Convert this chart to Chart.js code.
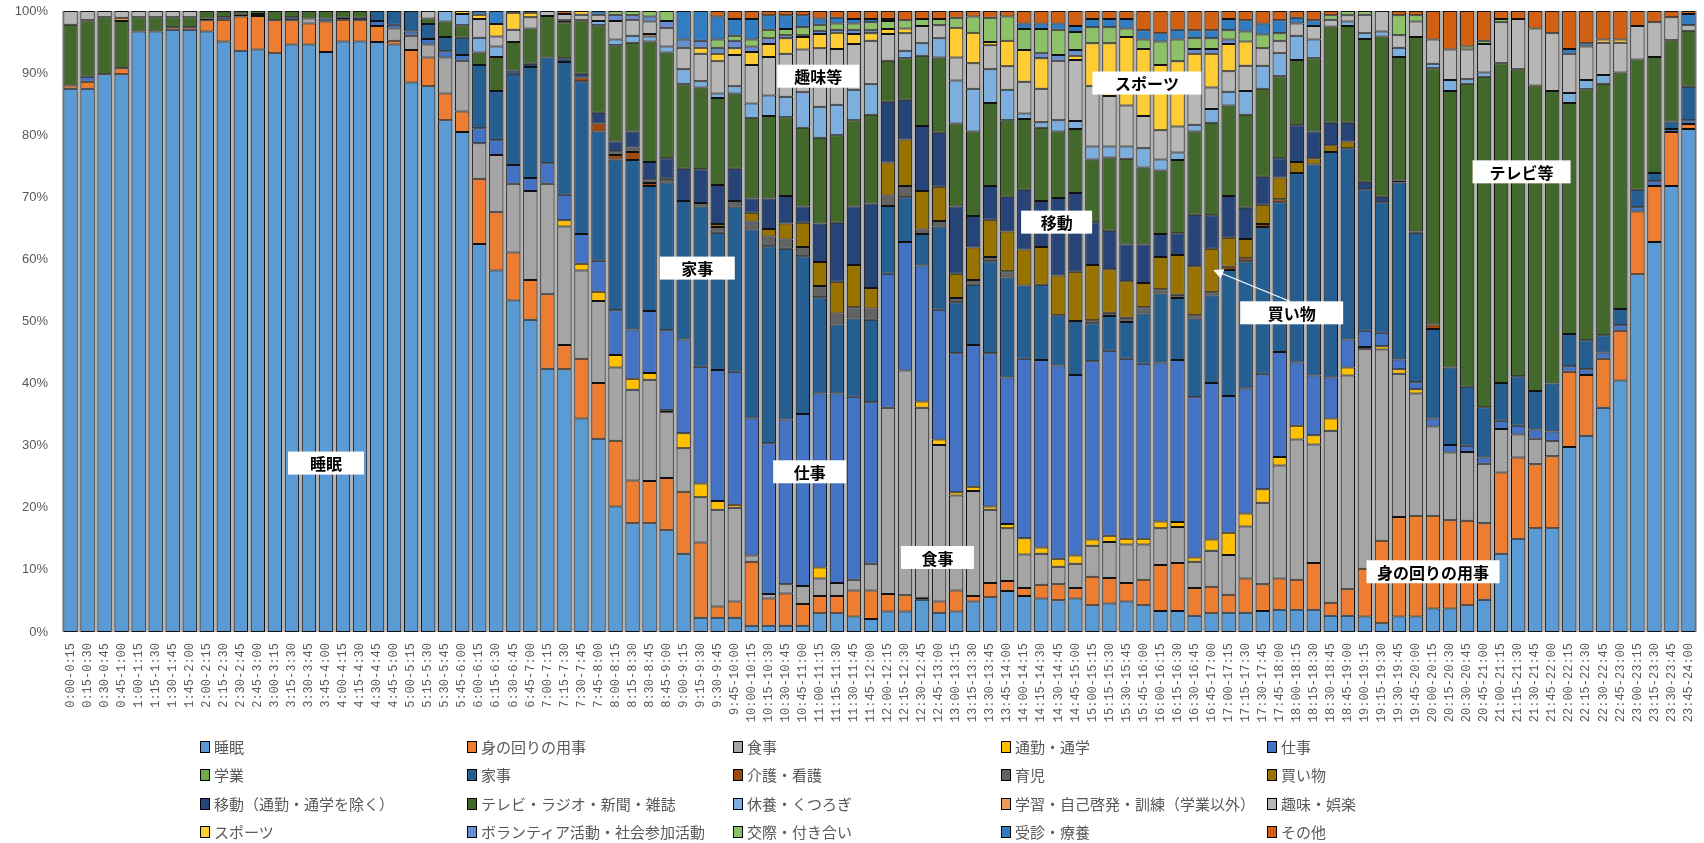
<!DOCTYPE html>
<html lang="ja">
<head>
  <meta charset="UTF-8">
  <title>生活時間 積み上げ棒グラフ</title>
  <script src="https://cdn.jsdelivr.net/npm/chart.js"></script>
  <style>
    body{margin:0;background:#fff;}
    .wrap{position:relative;width:1704px;height:843px;}
    #legend{position:absolute;left:0;top:0;width:1704px;height:843px;pointer-events:none;
      font-family:"Noto Sans CJK JP","Noto Sans",sans-serif;font-size:15px;color:#595959;}
    .item{position:absolute;display:flex;align-items:center;white-space:nowrap;line-height:1;}
    .item i{display:inline-block;width:8px;height:10px;border:1px solid #000;margin-right:4px;}
  </style>
</head>
<body>
<div class="wrap">
  <canvas id="myChart" width="1704" height="843"></canvas>
  <div id="legend"></div>
</div>
<script>
// time slots
const slots = [
  '0:00-0:15','0:15-0:30','0:30-0:45','0:45-1:00','1:00-1:15','1:15-1:30','1:30-1:45','1:45-2:00',
  '2:00-2:15','2:15-2:30','2:30-2:45','2:45-3:00','3:00-3:15','3:15-3:30','3:30-3:45','3:45-4:00',
  '4:00-4:15','4:15-4:30','4:30-4:45','4:45-5:00','5:00-5:15','5:15-5:30','5:30-5:45','5:45-6:00',
  '6:00-6:15','6:15-6:30','6:30-6:45','6:45-7:00','7:00-7:15','7:15-7:30','7:30-7:45','7:45-8:00',
  '8:00-8:15','8:15-8:30','8:30-8:45','8:45-9:00','9:00-9:15','9:15-9:30','9:30-9:45','9:45-10:00',
  '10:00-10:15','10:15-10:30','10:30-10:45','10:45-11:00','11:00-11:15','11:15-11:30','11:30-11:45','11:45-12:00',
  '12:00-12:15','12:15-12:30','12:30-12:45','12:45-13:00','13:00-13:15','13:15-13:30','13:30-13:45','13:45-14:00',
  '14:00-14:15','14:15-14:30','14:30-14:45','14:45-15:00','15:00-15:15','15:15-15:30','15:30-15:45','15:45-16:00',
  '16:00-16:15','16:15-16:30','16:30-16:45','16:45-17:00','17:00-17:15','17:15-17:30','17:30-17:45','17:45-18:00',
  '18:00-18:15','18:15-18:30','18:30-18:45','18:45-19:00','19:00-19:15','19:15-19:30','19:30-19:45','19:45-20:00',
  '20:00-20:15','20:15-20:30','20:30-20:45','20:45-21:00','21:00-21:15','21:15-21:30','21:30-21:45','21:45-22:00',
  '22:00-22:15','22:15-22:30','22:30-22:45','22:45-23:00','23:00-23:15','23:15-23:30','23:30-23:45','23:45-24:00'
];

// % of people, one value per slot (rows of 10)
const sleep = [
  87.5, 87.5, 89.8, 89.8, 96.7, 96.7, 97.0, 97.0, 96.7, 95.1,
  93.6, 93.8, 93.2, 94.6, 94.6, 93.4, 95.1, 95.1, 95.0, 94.6,
  88.5, 87.9, 82.4, 80.5, 62.5, 58.2, 53.4, 50.3, 42.4, 42.3,
  34.4, 31.1, 20.2, 17.5, 17.5, 16.4, 12.6, 2.3, 2.3, 2.3,
  1.0, 1.0, 1.0, 1.0, 3.0, 3.0, 2.5, 2.1, 3.3, 3.3,
  5.2, 3.1, 3.3, 4.9, 5.6, 6.6, 5.8, 5.4, 5.1, 5.4,
  4.3, 4.6, 4.9, 4.3, 3.4, 3.4, 2.6, 3.0, 3.1, 3.1,
  3.4, 3.6, 3.6, 3.6, 2.6, 2.6, 2.5, 1.4, 2.5, 2.5,
  3.8, 3.8, 4.3, 5.2, 12.6, 15.0, 16.7, 16.7, 29.8, 31.6,
  36.1, 40.5, 57.6, 62.8, 71.8, 81.0
];
const personal = [
  0.5, 1.1, 0, 1.0, 0, 0, 0.4, 0.4, 1.8, 3.5,
  5.5, 5.4, 5.3, 3.9, 3.4, 4.9, 3.5, 3.4, 2.6, 0.6,
  5.2, 4.6, 4.3, 3.3, 10.5, 9.4, 7.7, 6.4, 12.0, 3.9,
  9.6, 9.0, 10.6, 6.9, 6.8, 8.4, 10.0, 12.1, 1.8, 2.6,
  10.3, 4.4, 5.2, 3.5, 2.8, 2.8, 4.2, 4.6, 2.8, 2.6,
  0.3, 1.8, 3.4, 0.9, 2.3, 1.6, 1.3, 2.2, 2.6, 1.7,
  4.6, 4.1, 3.0, 4.1, 7.4, 7.7, 4.5, 4.3, 2.9, 5.5,
  4.3, 5.0, 4.8, 7.5, 2.1, 4.3, 7.7, 13.3, 16.0, 16.2,
  14.9, 14.2, 13.6, 12.3, 13.1, 13.1, 10.3, 11.6, 12.1, 9.8,
  7.9, 8.0, 10.1, 9.0, 8.7, 0.8
];
const meal = [
  0, 0, 0, 0, 0, 0, 0, 0, 0, 0,
  0, 0, 0, 0, 0.8, 0, 0, 0, 0, 2.0,
  2.3, 2.1, 5.8, 8.2, 5.7, 9.2, 11.1, 14.3, 17.8, 19.1,
  14.2, 13.2, 11.8, 14.6, 16.3, 10.6, 7.0, 7.3, 15.6, 15.1,
  1.0, 0.7, 1.5, 2.9, 2.8, 2.1, 1.7, 4.3, 30.0, 36.2,
  30.6, 25.2, 15.3, 16.9, 11.8, 8.5, 5.4, 5.0, 2.8, 3.9,
  5.0, 5.8, 6.2, 5.7, 5.9, 5.8, 4.2, 5.8, 6.4, 8.4,
  13.1, 18.2, 22.6, 19.1, 27.7, 34.4, 35.4, 30.8, 23.1, 19.7,
  14.4, 10.9, 11.1, 9.6, 7.0, 3.7, 4.1, 2.4, 0, 0,
  0, 0, 0, 0, 0, 0
];
const commute = [
  0, 0, 0, 0, 0, 0, 0, 0, 0, 0,
  0, 0, 0, 0, 0, 0, 0, 0, 0, 0,
  0, 0, 0, 0, 0, 0, 0, 0, 0, 1.0,
  1.1, 1.5, 2.0, 1.8, 1.1, 0.3, 2.4, 2.2, 1.4, 0.5,
  0, 0, 0, 0, 1.8, 0, 0, 0, 0, 0,
  1.0, 0.9, 0.5, 0.7, 0.5, 0.7, 2.6, 1.0, 1.3, 1.3,
  1.0, 1.0, 0.9, 0.9, 1.1, 0.8, 0.7, 1.8, 3.6, 2.1,
  2.2, 1.4, 2.2, 1.5, 2.0, 1.3, 0.3, 0.5, 0.7, 0.7,
  0, 0, 0, 0, 0, 0, 0, 0, 0, 0,
  0, 0, 0, 0, 0, 0
];
const work = [
  0, 0.8, 0, 0, 0, 0, 0, 0, 0, 0,
  0.3, 0, 0, 0, 0, 0, 0, 0, 0.8, 0.6,
  0.7, 0.9, 1.0, 0.9, 2.4, 2.4, 3.0, 2.1, 3.3, 4.1,
  4.8, 5.0, 7.2, 7.9, 10.0, 12.9, 15.1, 18.8, 21.1, 21.4,
  22.1, 24.3, 26.5, 27.7, 28.0, 30.5, 29.5, 26.0, 21.6, 20.7,
  21.9, 20.9, 22.4, 22.8, 24.7, 23.6, 28.9, 30.2, 31.1, 29.1,
  28.7, 29.8, 29.0, 28.2, 25.6, 26.1, 25.8, 25.2, 22.0, 20.1,
  18.6, 16.9, 10.2, 9.6, 6.6, 4.5, 2.6, 2.2, 1.6, 1.1,
  1.3, 1.2, 1.0, 1.0, 1.3, 1.4, 1.5, 1.6, 0.9, 0.9,
  1.0, 0.9, 0.7, 0.8, 0.5, 0.6
];
const school = [
  0, 0, 0, 0, 0, 0, 0, 0, 0, 0,
  0, 0, 0, 0, 0, 0, 0, 0, 0, 0,
  0, 0, 0, 0, 0, 0, 0, 0, 0, 0,
  0, 0, 0, 0, 0, 0, 0, 0, 0, 0,
  0, 0, 0, 0, 0, 0, 0, 0, 0, 0,
  0, 0, 0, 0, 0, 0, 0, 0, 0, 0,
  0, 0, 0, 0, 0, 0, 0, 0, 0, 0,
  0, 0, 0, 0, 0, 0, 0, 0, 0, 0,
  0, 0, 0, 0, 0, 0, 0, 0, 0, 0,
  0, 0, 0, 0, 0, 0
];
const housework = [
  0, 0, 0, 0, 0, 0, 0, 0, 0.3, 0.4,
  0, 0, 0, 0, 0, 0.5, 0, 0, 1.6, 2.2,
  3.3, 2.4, 2.3, 2.8, 10.2, 7.9, 14.7, 17.9, 17.0, 21.4,
  24.6, 20.8, 24.3, 27.3, 20.1, 23.8, 22.3, 25.8, 22.1, 26.6,
  30.4, 31.7, 27.5, 25.4, 15.5, 11.1, 12.6, 13.3, 10.9, 7.2,
  5.1, 13.4, 8.2, 9.7, 14.8, 16.1, 11.8, 12.1, 8.1, 8.7,
  6.1, 5.6, 5.9, 8.1, 11.1, 10.0, 12.7, 14.1, 20.3, 20.5,
  23.6, 24.1, 30.5, 34.0, 36.3, 30.8, 22.8, 21.0, 28.5, 24.1,
  14.4, 12.5, 9.5, 8.1, 6.1, 8.0, 6.2, 7.7, 5.2, 4.7,
  2.8, 2.6, 2.8, 1.3, 1.2, 5.4
];
const nursing = [
  0, 0, 0, 0, 0, 0, 0, 0, 0, 0,
  0, 0, 0, 0, 0, 0, 0, 0, 0, 0,
  0, 0, 0, 0, 0, 0, 0, 0, 0, 0,
  0.6, 1.3, 0.7, 1.3, 0.5, 0, 0, 0, 0, 0,
  0, 0, 0, 0, 0, 0, 0, 0, 0, 0,
  0, 0, 0, 0, 0, 0, 0, 0, 0, 0,
  0, 0, 0, 0, 0, 0, 0, 0, 0.5, 0.5,
  0.5, 0.5, 0, 0, 0, 0, 0, 0, 0, 0,
  0.7, 0, 0, 0, 0, 0, 0, 0, 0, 0,
  0, 0, 0, 0, 0, 0
];
const childcare = [
  0, 0, 0, 0, 0, 0, 0, 0, 0, 0,
  0, 0, 0, 0, 0, 0, 0, 0, 0, 0,
  0, 0, 0, 0, 0, 0, 0, 0, 0, 0,
  0, 0, 0.6, 0.7, 0.6, 0.6, 0, 0.6, 0.9, 0.9,
  1.3, 1.6, 1.5, 1.5, 1.8, 1.8, 1.8, 1.8, 1.7, 1.8,
  0.7, 0.9, 0.7, 0.8, 0.7, 1.0, 0, 0, 0, 0,
  0.5, 0.5, 0.7, 1.0, 0.7, 0.5, 0.5, 0.5, 0, 0,
  0, 0, 0, 0, 0, 0, 0, 0, 0, 0,
  0, 0, 0, 0, 0, 0, 0, 0, 0, 0,
  0, 0, 0, 0, 0, 0
];
const shopping = [
  0, 0, 0, 0, 0, 0, 0, 0, 0, 0,
  0, 0, 0, 0, 0, 0, 0, 0, 0, 0,
  0, 0, 0, 0, 0, 0, 0, 0, 0, 0,
  0, 0, 0, 0, 0, 0, 0, 0, 0.5, 0,
  1.4, 1.2, 2.6, 3.9, 3.9, 5.1, 6.8, 3.3, 5.3, 7.5,
  6.2, 5.5, 3.9, 5.2, 6.0, 6.4, 5.8, 6.1, 6.4, 7.9,
  8.9, 7.0, 5.9, 3.9, 5.2, 6.4, 7.9, 7.0, 4.7, 3.1,
  3.1, 3.5, 1.8, 1.0, 1.1, 1.1, 0, 0, 0, 0,
  0, 0, 0, 0, 0, 0, 0, 0, 0, 0,
  0, 0, 0, 0, 0, 0
];
const moving = [
  0, 0, 0, 0, 0, 0, 0, 0, 0, 0,
  0, 0.3, 0, 0.5, 0, 0, 0.3, 0.4, 0, 0,
  0, 0, 0, 0, 0, 0, 0.5, 0.5, 0, 0.6,
  0.6, 1.7, 1.6, 2.6, 2.8, 3.3, 5.2, 5.4, 6.3, 5.2,
  2.3, 4.9, 4.4, 2.6, 6.2, 9.5, 9.4, 13.6, 9.8, 6.4,
  10.5, 8.7, 10.8, 5.1, 5.4, 5.6, 9.6, 7.4, 12.5, 12.7,
  6.9, 6.2, 5.9, 6.2, 3.7, 3.5, 8.3, 5.4, 6.7, 5.0,
  4.5, 3.1, 5.9, 4.3, 3.6, 3.0, 1.2, 0.9, 0.3, 0.2,
  0, 0, 0, 0, 0, 0, 0, 0, 0, 0,
  0, 0, 0, 0, 0, 0
];
const tv = [
  9.8, 9.1, 9.2, 7.6, 2.3, 2.3, 1.6, 1.6, 1.2, 1.0,
  0.6, 0.5, 1.5, 1.0, 1.2, 1.2, 1.1, 1.1, 0, 0,
  0, 0.9, 2.5, 2.0, 2.0, 5.5, 4.6, 5.7, 6.7, 5.8,
  8.6, 14.1, 15.5, 14.3, 19.4, 17.0, 13.6, 13.2, 14.0, 12.1,
  13.0, 13.3, 12.7, 12.7, 13.8, 14.1, 13.9, 14.3, 6.6, 6.7,
  11.3, 12.1, 13.4, 13.6, 13.4, 12.3, 11.4, 11.8, 10.7, 10.3,
  10.1, 11.8, 13.8, 12.4, 10.2, 11.8, 13.4, 14.9, 14.6, 15.0,
  14.2, 13.2, 10.5, 11.8, 15.5, 15.6, 23.0, 25.8, 19.9, 31.3,
  41.3, 44.5, 48.8, 53.2, 51.5, 49.4, 49.2, 47.1, 37.2, 40.4,
  40.5, 38.1, 21.0, 18.7, 13.1, 9.0
];
const rest = [
  0, 0, 0, 0, 0, 0, 0, 0, 0, 0,
  0, 0, 0, 0, 0, 0, 0, 0, 0, 0,
  0, 0, 1.7, 1.8, 2.4, 1.7, 0, 0, 0, 0,
  0, 0.7, 0.9, 1.1, 0.8, 1.0, 2.4, 1.0, 0.7, 1.2,
  2.3, 3.3, 3.3, 5.7, 5.0, 4.9, 4.9, 4.9, 0, 1.2,
  2.0, 3.1, 6.9, 6.9, 5.4, 4.9, 0.9, 0.9, 1.8, 1.3,
  2.1, 1.8, 2.0, 3.1, 1.8, 1.2, 1.1, 2.2, 2.2, 3.8,
  3.7, 3.7, 3.9, 3.0, 0, 0.7, 0.9, 0.8, 1.5, 0,
  0.7, 1.8, 0.7, 0.7, 0, 0, 0, 0, 1.6, 1.5,
  1.4, 0, 0, 0, 0, 0
];
const learning = [
  0, 0, 0, 0.5, 0, 0, 0, 0, 0, 0,
  0, 0, 0, 0, 0, 0, 0, 0, 0, 0,
  0, 0, 0, 0, 0, 0, 0, 0, 0, 0.3,
  0, 0, 0, 0, 0.4, 0, 0, 0, 0, 0,
  0, 0, 0, 0, 0, 0, 0, 0, 0, 0,
  0, 0, 0, 0, 0, 0, 0, 0, 0, 0,
  0, 0, 0, 0, 0, 0, 0, 0, 0, 0,
  0, 0, 0, 0, 0, 0, 0, 0, 0, 0,
  0, 0, 0, 0, 0, 0, 0, 0, 0, 0,
  0, 0, 0, 0, 0, 0
];
const hobby = [
  2.2, 1.5, 1.0, 1.1, 1.0, 1.0, 1.0, 1.0, 0, 0,
  0, 0, 0, 0, 0, 0, 0, 0, 0, 0,
  0, 1.2, 0, 0, 3.0, 1.6, 2.0, 1.8, 0.8, 1.0,
  0.9, 1.0, 3.0, 2.6, 2.0, 3.0, 3.5, 4.4, 5.2, 5.0,
  6.2, 6.2, 6.9, 6.9, 9.4, 9.0, 7.4, 7.0, 4.3, 2.8,
  2.8, 2.1, 3.7, 4.1, 3.9, 3.8, 5.1, 5.4, 9.6, 9.8,
  9.7, 8.1, 6.6, 5.2, 4.7, 4.2, 5.2, 3.5, 3.3, 4.1,
  2.8, 2.0, 2.0, 2.2, 1.1, 1.0, 3.0, 3.3, 2.0, 2.5,
  3.9, 4.9, 4.8, 4.6, 6.6, 8.1, 9.2, 9.3, 6.3, 5.4,
  5.2, 4.8, 5.4, 5.6, 3.7, 0.9
];
const sports = [
  0, 0, 0, 0, 0, 0, 0, 0, 0, 0,
  0, 0, 0, 0, 0, 0, 0, 0, 0, 0,
  0, 0, 0, 0.5, 0.7, 2.0, 2.7, 0.7, 0, 0,
  0.6, 0, 0, 0, 0, 0, 0, 1.0, 1.2, 1.1,
  2.1, 2.1, 2.5, 2.0, 2.3, 2.6, 1.6, 1.2, 0.8, 0.8,
  0, 0, 4.8, 4.9, 0.5, 4.1, 5.1, 4.9, 0, 0.7,
  6.9, 8.5, 11.0, 10.8, 10.5, 10.5, 6.2, 5.4, 4.4, 3.9,
  0, 0, 0, 0, 0, 0, 0, 0, 0, 0,
  0, 0, 0, 0, 0, 0, 0, 0, 0, 0,
  0.5, 0.5, 0, 0, 0, 0
];
const volunteer = [
  0, 0, 0, 0, 0, 0, 0, 0, 0, 0,
  0, 0, 0, 0, 0, 0, 0, 0, 0, 0,
  0, 0, 0, 0, 0, 0, 0, 0, 0, 0,
  0, 0, 1.0, 0.7, 0.8, 1.1, 1.3, 1.1, 1.0, 1.2,
  0.9, 0.9, 0.5, 0.3, 0.5, 0.5, 0.7, 0.5, 0, 0,
  0, 0, 0, 0, 0, 0, 0, 0.8, 0.9, 0.9,
  0, 0, 0, 0, 0, 0, 0.8, 0.8, 0.7, 0,
  0, 0, 0, 0, 0, 0, 0, 0, 0, 0,
  0, 0, 0, 0, 0, 0, 0, 0, 0, 0,
  0, 0, 0, 0, 0, 0
];
const social = [
  0, 0, 0, 0, 0, 0, 0, 0, 0, 0,
  0, 0, 0, 0, 0, 0, 0, 0, 0, 0,
  0, 0, 0, 0, 0, 0, 0, 0, 0, 0,
  0, 0, 0.6, 0.7, 0.9, 1.6, 0, 0, 1.3, 0.8,
  1.1, 1.4, 1.0, 1.3, 1.0, 1.0, 1.0, 1.3, 1.3, 1.3,
  1.1, 1.0, 1.6, 2.6, 3.9, 3.9, 3.4, 3.9, 4.1, 2.9,
  2.6, 2.6, 1.4, 1.5, 3.8, 3.5, 1.7, 1.7, 1.5, 1.6,
  2.2, 1.2, 0, 0, 0.7, 0.7, 0.6, 0, 3.2, 1.0,
  0, 0, 0.5, 0.5, 0.5, 0, 0, 0, 0, 0,
  0, 0, 0, 0, 0, 0
];
const medical = [
  0, 0, 0, 0, 0, 0, 0, 0, 0, 0,
  0, 0, 0, 0, 0, 0, 0, 0, 0, 0,
  0, 0, 0, 0, 0.6, 2.1, 0, 0, 0, 0,
  0, 0.6, 0, 0, 0, 0, 4.6, 4.8, 3.7, 2.7,
  3.3, 2.3, 2.2, 1.9, 1.0, 0.9, 0.7, 0.5, 0.3, 0,
  0, 0, 0, 0, 0, 0, 0.9, 0.9, 1.0, 1.0,
  1.3, 1.3, 1.5, 1.5, 1.3, 1.6, 1.3, 1.3, 1.8, 1.8,
  1.8, 2.1, 0.9, 0.9, 0, 0, 0, 0, 0, 0,
  0, 0, 0, 0, 0, 0, 0, 0, 0.8, 0.5,
  0, 0, 0, 0, 0, 1.8
];
const other = [
  0, 0, 0, 0, 0, 0, 0, 0, 0, 0,
  0, 0, 0, 0, 0, 0, 0, 0, 0, 0,
  0, 0, 0, 0, 0, 0, 0.3, 0.3, 0, 0.5,
  0, 0, 0, 0, 0, 0, 0, 0, 0.9, 1.3,
  1.3, 0.7, 0.7, 0.7, 1.2, 1.1, 1.3, 1.3, 1.3, 1.5,
  1.3, 1.3, 1.1, 0.9, 1.1, 0.9, 2.0, 2.0, 2.0, 2.4,
  1.3, 1.3, 1.3, 3.1, 3.6, 3.0, 3.1, 3.1, 1.3, 1.5,
  2.0, 1.5, 1.1, 1.5, 0.7, 0, 0, 0, 0.7, 0.7,
  4.6, 6.2, 5.7, 4.8, 1.3, 1.3, 2.8, 3.6, 6.1, 5.2,
  4.6, 4.6, 2.4, 1.8, 1.0, 0.5
];

const seriesNames = ['睡眠','身の回りの用事','食事','通勤・通学','仕事','学業','家事','介護・看護','育児','買い物',
  '移動（通勤・通学を除く）','テレビ・ラジオ・新聞・雑誌','休養・くつろぎ','学習・自己啓発・訓練（学業以外）','趣味・娯楽',
  'スポーツ','ボランティア活動・社会参加活動','交際・付き合い','受診・療養','その他'];
const seriesValues = [sleep, personal, meal, commute, work, school, housework, nursing, childcare, shopping,
  moving, tv, rest, learning, hobby, sports, volunteer, social, medical, other];
const seriesColors = ['#5B9BD5','#ED7D31','#A5A5A5','#FFC000','#4472C4','#70AD47','#255E91','#9E480E','#636363','#997300',
  '#264478','#43682B','#7CAFDD','#F1975A','#B7B7B7','#FFCD33','#698ED0','#8CC168','#327DC2','#D26012'];

// callout labels: category index, % value, box width
const notes = [
  {text:'睡眠', at:15.0, val:27.2, w:76},
  {text:'家事', at:36.8, val:58.6, w:75},
  {text:'趣味等', at:43.9, val:89.5, w:82},
  {text:'仕事', at:43.4, val:25.8, w:73},
  {text:'食事', at:50.9, val:12.0, w:73},
  {text:'移動', at:57.9, val:66.0, w:71},
  {text:'スポーツ', at:63.2, val:88.4, w:109},
  {text:'買い物', at:71.7, val:51.4, w:103, arrow:[67.1, 58.3]},
  {text:'テレビ等', at:85.2, val:74.1, w:98},
  {text:'身の回りの用事', at:80.0, val:9.7, w:133}
];

// gray gaps between the bars
const plotBg = {
  id:'plotBg',
  beforeDatasetsDraw(chart){
    const {ctx, chartArea:{left, top, width, height}} = chart;
    ctx.save();
    ctx.fillStyle = '#b4b4b4';
    ctx.fillRect(left, top, width, height);
    ctx.restore();
  }
};

// white boxes with labels
const callouts = {
  id:'callouts',
  afterDatasetsDraw(chart){
    const {ctx, scales:{x, y}} = chart;
    ctx.save();
    notes.forEach(n => {
      const cx = x.getPixelForValue(n.at), cy = y.getPixelForValue(n.val);
      const h = 23;
      if (n.arrow){
        const tx = x.getPixelForValue(n.arrow[0]), ty = y.getPixelForValue(n.arrow[1]);
        const sx = cx - 2, sy = cy - h/2;
        const ang = Math.atan2(ty - sy, tx - sx);
        ctx.strokeStyle = '#fff';
        ctx.fillStyle = '#fff';
        ctx.lineWidth = 1.2;
        ctx.beginPath();
        ctx.moveTo(sx, sy);
        ctx.lineTo(tx - 8*Math.cos(ang), ty - 8*Math.sin(ang));
        ctx.stroke();
        ctx.beginPath();
        ctx.moveTo(tx, ty);
        ctx.lineTo(tx - 10*Math.cos(ang) + 5*Math.sin(ang), ty - 10*Math.sin(ang) - 5*Math.cos(ang));
        ctx.lineTo(tx - 10*Math.cos(ang) - 5*Math.sin(ang), ty - 10*Math.sin(ang) + 5*Math.cos(ang));
        ctx.closePath();
        ctx.fill();
      }
      ctx.fillStyle = '#fff';
      ctx.fillRect(cx - n.w/2, cy - h/2, n.w, h);
      ctx.fillStyle = '#000';
      ctx.font = 'bold 16px "Noto Sans CJK JP"';
      ctx.textAlign = 'center';
      ctx.textBaseline = 'middle';
      ctx.fillText(n.text, cx, cy + 1);
    });
    ctx.restore();
  }
};

const datasets = seriesNames.map((name, i) => ({
  label: name,
  data: seriesValues[i],
  backgroundColor: seriesColors[i],
  borderColor: '#111',
  borderWidth: c => (c.raw > 0 ? 1 : 0),
  borderSkipped: false,
  categoryPercentage: 0.84,
  barPercentage: 1.0
}));

const myChart = new Chart(document.getElementById('myChart'), {
  type: 'bar',
  data: {labels: slots, datasets},
  options: {
    responsive: false,
    animation: false,
    layout: {padding: {top: 11, right: 7, left: 0, bottom: 0}},
    scales: {
      x: {
        stacked: true,
        grid: {display: false, drawTicks: false},
        border: {display: false},
        ticks: {autoSkip: false, maxRotation: 90, minRotation: 90, padding: 11, color: '#595959',
          font: {family: '"Liberation Mono", "DejaVu Sans Mono", monospace', size: 12}},
        afterFit(s){ s.height = 211; s.paddingLeft = 0; s.paddingRight = 0; }
      },
      y: {
        stacked: true, min: 0, max: 100,
        grid: {display: false, drawTicks: false},
        border: {display: false},
        ticks: {stepSize: 10, padding: 14, color: '#595959', callback: v => v + '%',
          font: {family: '"Liberation Sans", Arial, sans-serif', size: 13}},
        afterFit(s){ s.width = 62; s.paddingTop = 0; s.paddingBottom = 0; }
      }
    },
    plugins: {legend: {display: false}, tooltip: {enabled: false}}
  },
  plugins: [plotBg, callouts]
});

// legend: 5 columns x 4 rows under the chart
const legendCols = [200, 467, 733, 1001, 1267];
const legendRows = [747, 775, 804, 832];
const legendBox = document.getElementById('legend');
myChart.data.datasets.forEach((ds, i) => {
  const el = document.createElement('div');
  el.className = 'item';
  el.style.left = legendCols[i % 5] + 'px';
  el.style.top = (legendRows[Math.floor(i / 5)] - 8) + 'px';
  el.innerHTML = '<i style="background:' + ds.backgroundColor + '"></i>' + ds.label;
  legendBox.appendChild(el);
});
</script>
</body>
</html>
